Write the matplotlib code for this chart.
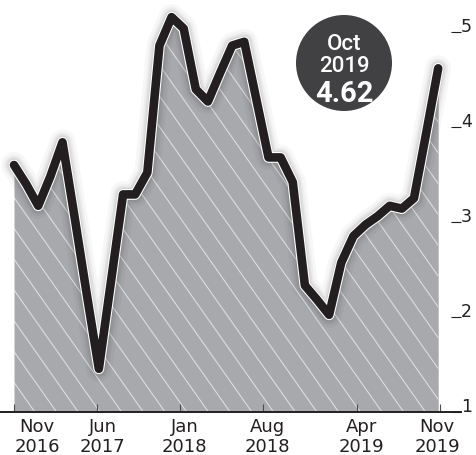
########################################################################
### Modules ###
########################################################################

#python modules
import numpy             as np
import pandas            as pd
import matplotlib
matplotlib.use('Agg')
import matplotlib.pyplot as plt
from matplotlib.patches     import Circle
from matplotlib.collections import LineCollection
from matplotlib.transforms  import IdentityTransform


########################################################################
### Data ###
########################################################################

#monthly values, Nov 2016 - Oct 2019
months = pd.date_range('2016-11-01', periods=36, freq='MS')
values = [
    3.60, 3.40, 3.17, 3.48, 3.84, 3.05, 2.24, 1.45, 2.37, 3.29, 3.29, 3.52,
    4.86, 5.16, 5.04, 4.40, 4.27, 4.57, 4.86, 4.90, 4.29, 3.68, 3.68, 3.42,
    2.33, 2.18, 2.02, 2.57, 2.85, 2.97, 3.06, 3.17, 3.14, 3.25, 3.93, 4.62,
    ]

#x-axis ticks (months after Nov 2016) and labels
tick_months = [0, 7, 14, 21, 29, 36]
tick_labels = [
    ('Nov', '2016'), ('Jun', '2017'), ('Jan', '2018'),
    ('Aug', '2018'), ('Apr', '2019'), ('Nov', '2019'),
    ]

#y-axis ticks
y_ticks = [1, 2, 3, 4, 5]

#badge text
badge_month = months[-1].strftime('%b')
badge_year  = months[-1].strftime('%Y')
badge_value = values[-1]


########################################################################
### Figure ###
########################################################################

W, H = 477, 455
dark = '#231f20'
fill_grey = '#a7a9ac'

fig = plt.figure(figsize=(W/100, H/100), dpi=100)

#axes placed in pixels: x index 0 at px 14, 12.12 px per month,
#value 1 at px 411.5 from top, 94.8 px per unit
px_month = 12.12
px_unit = 94.8
y0_px = 411.5
right_px = 461
ax = fig.add_axes([0, (H - y0_px)/H, right_px/W, y0_px/H])
ax.set_xlim(-14/px_month, (right_px - 14)/px_month)
ax.set_ylim(1, 1 + y0_px/px_unit)

x = np.arange(len(values))

#grey area under the line
area = ax.fill_between(x, values, 1, color=fill_grey, lw=0, zorder=1)

#white diagonal hatch, clipped to the area
slope = 1.42
step = 21.7
starts = np.arange(-H/slope, W + step, step)
segs = [[(s, H), (s + H/slope, 0)] for s in starts]
hatch = LineCollection(segs, colors='white', linewidths=0.8, alpha=0.6,
                       transform=IdentityTransform(), zorder=1.5)
hatch.set_clip_path(area.get_paths()[0], ax.transData)
ax.add_collection(hatch, autolim=False)

#soft shadow under the line
for w, a in [(26, 0.03), (20, 0.04), (16, 0.05), (12.5, 0.07)]:
    ax.plot(x, values, color='black', lw=w*0.72, alpha=a,
            solid_joinstyle='round', solid_capstyle='round', zorder=2)

#white outline and black line
ax.plot(x, values, color='white', lw=7.8, solid_joinstyle='round',
        solid_capstyle='round', zorder=3)
ax.plot(x, values, color=dark, lw=6.2, solid_joinstyle='round',
        solid_capstyle='round', zorder=4)

#spines
for side in ['top', 'left', 'right']:
    ax.spines[side].set_visible(False)
ax.spines['bottom'].set_color(dark)
ax.spines['bottom'].set_linewidth(1.4)

#x ticks (labels drawn as text below)
span = (440 - 14)/px_month
tick_pos = np.array(tick_months)*span/36
ax.set_xticks(tick_pos)
ax.set_xticklabels([])
ax.tick_params(axis='x', direction='in', length=6, width=0.8, color='#4d4d4f')

label_shift = [23, 6, 5, 5, 4, -3]
for pos, (mon, yr), sh in zip(tick_pos, tick_labels, label_shift):
    xt = pos + sh/px_month
    ax.annotate(mon, (xt, 0), xycoords=ax.get_xaxis_transform(),
                xytext=(0, -21*0.72), textcoords='offset points',
                ha='center', va='baseline', fontsize=13, color=dark,
                annotation_clip=False)
    ax.annotate(yr, (xt, 0), xycoords=ax.get_xaxis_transform(),
                xytext=(0, -40*0.72), textcoords='offset points',
                ha='center', va='baseline', fontsize=13, color=dark,
                annotation_clip=False)

#y ticks on the right
ax.yaxis.tick_right()
ax.set_yticks(y_ticks)
ax.set_yticklabels([str(t) for t in y_ticks])
ax.tick_params(axis='y', direction='in', length=7.2, width=0.8, color=dark,
               pad=0, labelsize=12.5, labelcolor=dark)
for lab in ax.get_yticklabels():
    lab.set_va('baseline')

#badge with latest value
badge = Circle((3.44, (H - 63)/100), 0.48, transform=fig.dpi_scale_trans,
               facecolor='#414042', edgecolor='none', zorder=10)
fig.add_artist(badge)
fig.text(344/W, (H - 50)/H, badge_month, ha='center', va='baseline',
         fontsize=16, color='white', family='Roboto', fontweight='medium',
         zorder=11)
fig.text(344/W, (H - 72)/H, badge_year, ha='center', va='baseline',
         fontsize=16, color='white', family='Roboto', fontweight='medium',
         zorder=11)
fig.text(344/W, (H - 102)/H, f'{badge_value:.2f}', ha='center',
         va='baseline', fontsize=21, color='white', family='Roboto',
         fontweight='bold', zorder=11)

#save
fig.savefig('out.png', dpi=100)
